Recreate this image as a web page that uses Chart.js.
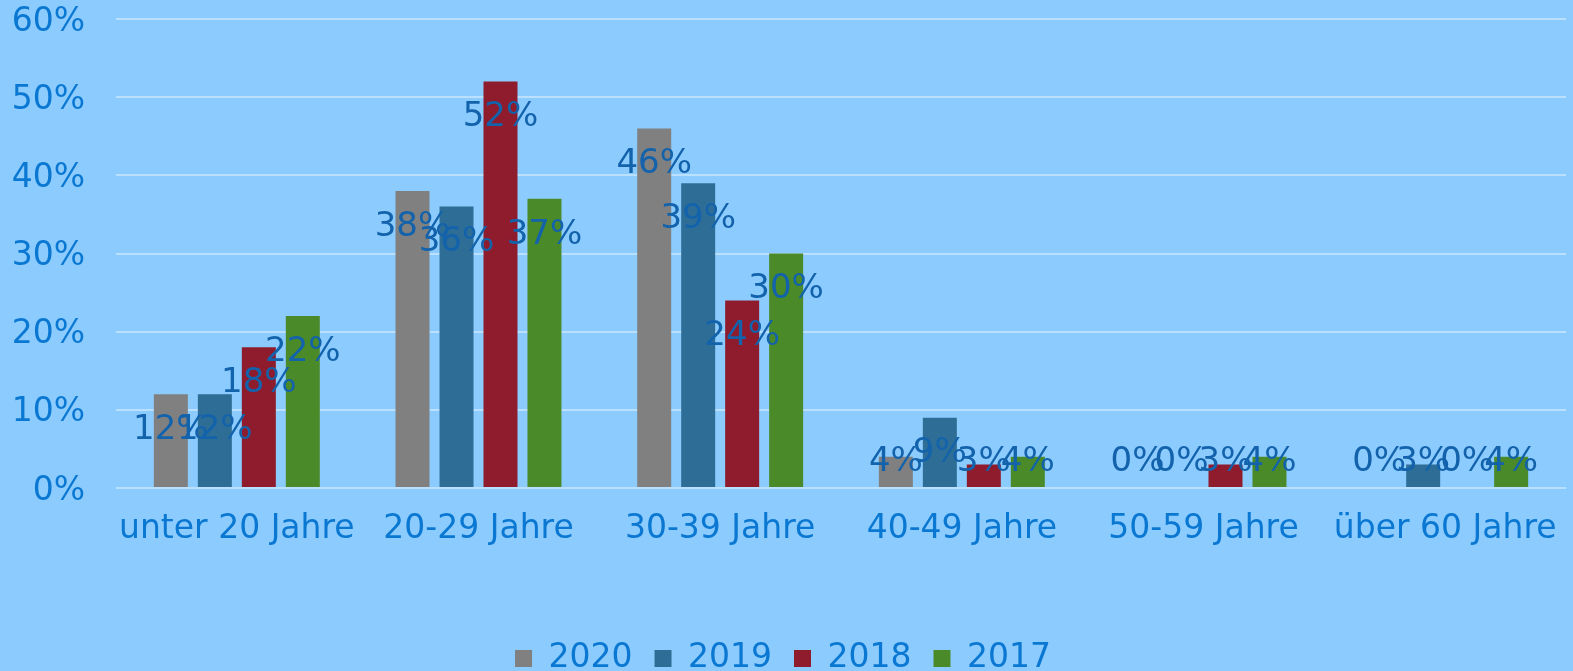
<!DOCTYPE html>
<html lang="de">
<head>
<meta charset="UTF-8">
<title>Altersverteilung</title>
<script src="https://cdn.jsdelivr.net/npm/chart.js"></script>
<style>
  * { margin: 0; padding: 0; box-sizing: border-box; }
  html, body { width: 1573px; height: 671px; background: #8ccbfd; overflow: hidden; }
  #wrap { width: 1573px; height: 671px; position: relative; }
</style>
</head>
<body>
<div id="wrap"><canvas id="chart"></canvas></div>
<script>
// Altersgruppen
const categories = ['unter 20 Jahre', '20-29 Jahre', '30-39 Jahre', '40-49 Jahre', '50-59 Jahre', 'über 60 Jahre'];
const years = ['2020', '2019', '2018', '2017'];
const values2020 = [12, 38, 46, 4, 0, 0];
const values2019 = [12, 36, 39, 9, 0, 3];
const values2018 = [18, 52, 24, 3, 3, 0];
const values2017 = [22, 37, 30, 4, 4, 4];
const yTicks = [0, 10, 20, 30, 40, 50, 60];

const colors = ['#808080', '#2e6e96', '#8f1c2d', '#4b8a29'];
const series = [values2020, values2019, values2018, values2017];
const FONT = "'DejaVu Sans', Verdana, sans-serif";

// Prozentwerte auf die Balken schreiben
const valueLabels = {
  id: 'valueLabels',
  afterDatasetsDraw(chart) {
    const ctx = chart.ctx;
    const base = chart.scales.y.getPixelForValue(0);
    ctx.save();
    ctx.font = '34px ' + FONT;
    ctx.fillStyle = '#1262ac';
    ctx.textAlign = 'center';
    ctx.textBaseline = 'middle';
    chart.data.datasets.forEach((ds, i) => {
      chart.getDatasetMeta(i).data.forEach((bar, j) => {
        const y = Math.min(bar.y + 36, base - 26);
        ctx.fillText(ds.data[j] + '%', bar.x, y);
      });
    });
    ctx.restore();
  }
};

new Chart(document.getElementById('chart'), {
  type: 'bar',
  data: {
    labels: categories,
    datasets: years.map((y, i) => ({
      label: y,
      data: series[i],
      backgroundColor: colors[i],
      borderWidth: 0,
      categoryPercentage: 0.728,
      barPercentage: 0.773
    }))
  },
  options: {
    responsive: true,
    maintainAspectRatio: false,
    animation: false,
    layout: { padding: { top: 19, right: 7, left: 0, bottom: -14 } },
    plugins: {
      legend: {
        position: 'bottom',
        labels: {
          color: '#0a78d2',
          font: { family: FONT, size: 33 },
          boxWidth: 17,
          boxHeight: 17,
          padding: 22
        }
      },
      tooltip: { enabled: false }
    },
    scales: {
      x: {
        grid: { display: false },
        border: { display: false },
        ticks: { color: '#0a78d2', font: { family: FONT, size: 33 }, padding: 14, maxRotation: 0 },
        afterFit(axis) {
          axis.height = 132;
          axis.paddingLeft = 0;
          axis.paddingRight = 0;
        }
      },
      y: {
        min: 0,
        max: 60,
        afterBuildTicks(axis) { axis.ticks = yTicks.map(v => ({ value: v })); },
        grid: { color: 'rgba(255,255,255,0.4)', lineWidth: 2, drawTicks: false },
        border: { display: false },
        ticks: {
          color: '#0a78d2',
          font: { family: FONT, size: 33 },
          padding: 31,
          labelOffset: 3,
          callback: v => v + '%'
        },
        afterFit(axis) {
          axis.width = 116;
          axis.paddingTop = 0;
          axis.paddingBottom = 0;
        }
      }
    }
  },
  plugins: [valueLabels]
});
</script>
</body>
</html>
